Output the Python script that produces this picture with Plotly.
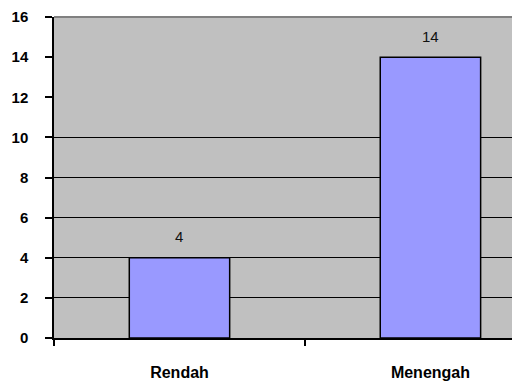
import plotly.graph_objects as go

categories = ["Rendah", "Menengah"]
values = [4, 14]
y_ticks = [0, 2, 4, 6, 8, 10, 12, 14, 16]
grid_ticks = [2, 4, 6, 8, 10]

fig = go.Figure()
fig.add_trace(go.Bar(
    x=categories, y=values, width=0.4,
    marker=dict(color="#9999FF", line=dict(color="#000000", width=1.5)),
    hoverinfo="skip",
))
# invisible trace on second axis for gridlines
fig.add_trace(go.Scatter(x=categories, y=values, yaxis="y2", mode="markers",
                         marker=dict(opacity=0), hoverinfo="skip", showlegend=False))

for c, v in zip(categories, values):
    fig.add_annotation(x=c, y=v, text=str(v), showarrow=False, yshift=21,
                       font=dict(family="Liberation Sans, Arial", size=15, color="#111111"))

fig.update_layout(
    width=519, height=385,
    margin=dict(l=54, r=7, t=17, b=47),
    paper_bgcolor="#FFFFFF", plot_bgcolor="#C0C0C0",
    showlegend=False,
    bargap=0.6,
    font=dict(family="Liberation Sans, Arial", color="#000000"),
    xaxis=dict(
        range=[-0.5, 1.325], tickson="boundaries", ticks="outside", ticklen=6,
        tickwidth=2, tickcolor="#000000", showline=True, linecolor="#000000",
        linewidth=2, showgrid=False, zeroline=False, automargin=False,
        tickfont=dict(family="Liberation Sans Narrow, Liberation Sans, Arial", size=16,
                      color="#000000", weight="bold"),
        ticklabelstandoff=19,
    ),
    yaxis=dict(
        range=[0, 16], tickvals=y_ticks, ticks="outside", ticklen=7, tickwidth=2,
        tickcolor="#000000", showline=True, linecolor="#000000", linewidth=1.5,
        showgrid=False, zeroline=False, ticklabelstandoff=14, automargin=False,
        tickfont=dict(family="Liberation Sans, Arial", size=15, color="#000000", weight="bold"),
    ),
    yaxis2=dict(
        range=[0, 16], tickvals=grid_ticks, overlaying="y", showticklabels=False,
        showgrid=True, gridcolor="#000000", gridwidth=1, zeroline=False,
        showline=False, ticks="", automargin=False,
    ),
    shapes=[dict(type="line", xref="paper", yref="paper", x0=0, x1=1, y0=1, y1=1,
                 line=dict(color="#808080", width=2))],
)
fig.write_html("out.html")
